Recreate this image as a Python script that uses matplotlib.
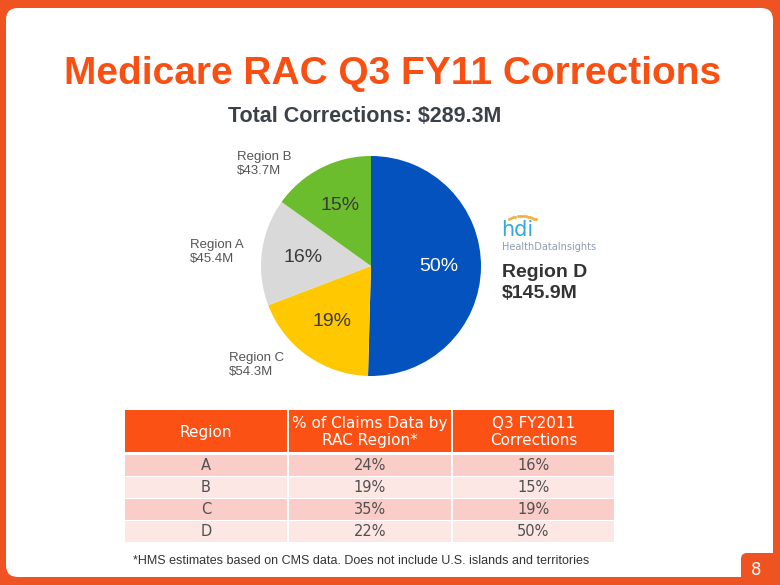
import numpy as np
import matplotlib
matplotlib.use("Agg")
import matplotlib.pyplot as plt
from matplotlib.patches import FancyBboxPatch, Rectangle

# ==========================================
# data
# ==========================================
regions = ["D", "C", "A", "B"]
corrections = [145.9, 54.3, 45.4, 43.7]          # $M
slice_colors = ["#0452BD", "#FFC800", "#D9D9D9", "#6CBD2D"]
pct_colors = ["white", "#3a3a3a", "#3a3a3a", "#3a3a3a"]

table_header = ["Region", "% of Claims Data by\nRAC Region*", "Q3 FY2011\nCorrections"]
table_regions = ["A", "B", "C", "D"]
claims_share = ["24%", "19%", "35%", "22%"]
q3_share = ["16%", "15%", "19%", "50%"]

total = sum(corrections)

ORANGE = "#EF5322"
TITLE_ORANGE = "#F94F12"
HEADER_ORANGE = "#FC5115"
ROW_DARK = "#FBCDC8"
ROW_LIGHT = "#FDE7E4"

W, H = 780, 585
fig = plt.figure(figsize=(W / 100, H / 100), dpi=100, facecolor=ORANGE)

# pixel-coordinate background axes
ax = fig.add_axes([0, 0, 1, 1])
ax.set_xlim(0, W)
ax.set_ylim(H, 0)
ax.axis("off")

# white panel
ax.add_patch(FancyBboxPatch((6, 8), 767, 569, boxstyle="round,pad=0,rounding_size=12",
                            facecolor="white", edgecolor="none"))
# page number notch
ax.add_patch(FancyBboxPatch((741, 553), 60, 60, boxstyle="round,pad=0,rounding_size=6",
                            facecolor=ORANGE, edgecolor="none"))
ax.text(756, 570, "8", color="white", fontsize=12, ha="center", va="center",
        family="DejaVu Sans")

# titles
ax.text(393, 74, "Medicare RAC Q3 FY11 Corrections", color=TITLE_ORANGE,
        fontsize=28, fontweight="bold", family="Liberation Sans", ha="center", va="center")
ax.text(365, 117, "Total Corrections: $%.1fM" % total, color="#3B4148",
        fontsize=15.5, fontweight="bold", family="Liberation Sans", ha="center", va="center")

# ==========================================
# pie
# ==========================================
cx, cy, r = 371, 266, 110
ax_pie = fig.add_axes([(cx - r) / W, 1 - (cy + r) / H, 2 * r / W, 2 * r / H])
wedges, texts, autotexts = ax_pie.pie(
    corrections, colors=slice_colors, startangle=90, counterclock=False,
    autopct="%.0f%%", pctdistance=0.62,
    textprops=dict(fontsize=14, family="Liberation Sans"),
)
for t, c in zip(autotexts, pct_colors):
    t.set_color(c)
ax_pie.set_xlim(-1, 1)
ax_pie.set_ylim(-1, 1)
ax_pie.set_aspect("equal")
ax_pie.axis("off")

# outer labels
label_pos = {"B": (237, 164), "A": (190, 252), "C": (229, 365)}
for reg, val in zip(regions, corrections):
    if reg == "D":
        ax.text(502, 283, "Region D\n$%.1fM" % val, color="#333333", fontsize=14,
                fontweight="bold", family="Liberation Sans", va="center",
                linespacing=1.25)
    else:
        x, y = label_pos[reg]
        ax.text(x, y, "Region %s\n$%.1fM" % (reg, val), color="#555555", fontsize=9.5,
                family="Liberation Sans", va="center", linespacing=1.2)

# hdi logo
t = np.linspace(0.1, 0.95, 14)
ax.plot(506 + 32 * t, 220 - 4 * np.sin(np.pi * t), linestyle="none", marker="o",
        markersize=1.1, color="#F3B23A")
ax.text(501, 230, "hdi", color="#35A8E0", fontsize=15, family="DejaVu Sans",
        va="center", ha="left")
ax.text(502, 247, "HealthDataInsights", color="#8C9DB3", fontsize=7,
        family="Liberation Sans Narrow", va="center", ha="left")

# ==========================================
# table
# ==========================================
col_x = [125, 289, 453, 616]
hdr_top, hdr_bot = 410, 452
row_top, row_h = 455, 22

for i in range(3):
    x0, x1 = col_x[i], col_x[i + 1] - 2
    ax.add_patch(Rectangle((x0, hdr_top), x1 - x0, hdr_bot - hdr_top,
                           facecolor=HEADER_ORANGE, edgecolor="none"))
    ax.text((x0 + x1) / 2, (hdr_top + hdr_bot) / 2 + 1, table_header[i], color="white",
            fontsize=11, family="DejaVu Sans", ha="center", va="center", linespacing=1.1)

rows = list(zip(table_regions, claims_share, q3_share))
for j, row in enumerate(rows):
    y0 = row_top + j * row_h
    fc = ROW_DARK if j % 2 == 0 else ROW_LIGHT
    for i in range(3):
        x0, x1 = col_x[i], col_x[i + 1] - 2
        ax.add_patch(Rectangle((x0, y0), x1 - x0, row_h - 1.5,
                               facecolor=fc, edgecolor="none"))
        ax.text((x0 + x1) / 2, y0 + row_h / 2, row[i], color="#505050",
                fontsize=10.5, family="DejaVu Sans", ha="center", va="center")

ax.text(133, 561, "*HMS estimates based on CMS data. Does not include U.S. islands and territories",
        color="#333333", fontsize=9, family="Liberation Sans", va="center")

fig.savefig("out.png", dpi=100, facecolor=fig.get_facecolor())
